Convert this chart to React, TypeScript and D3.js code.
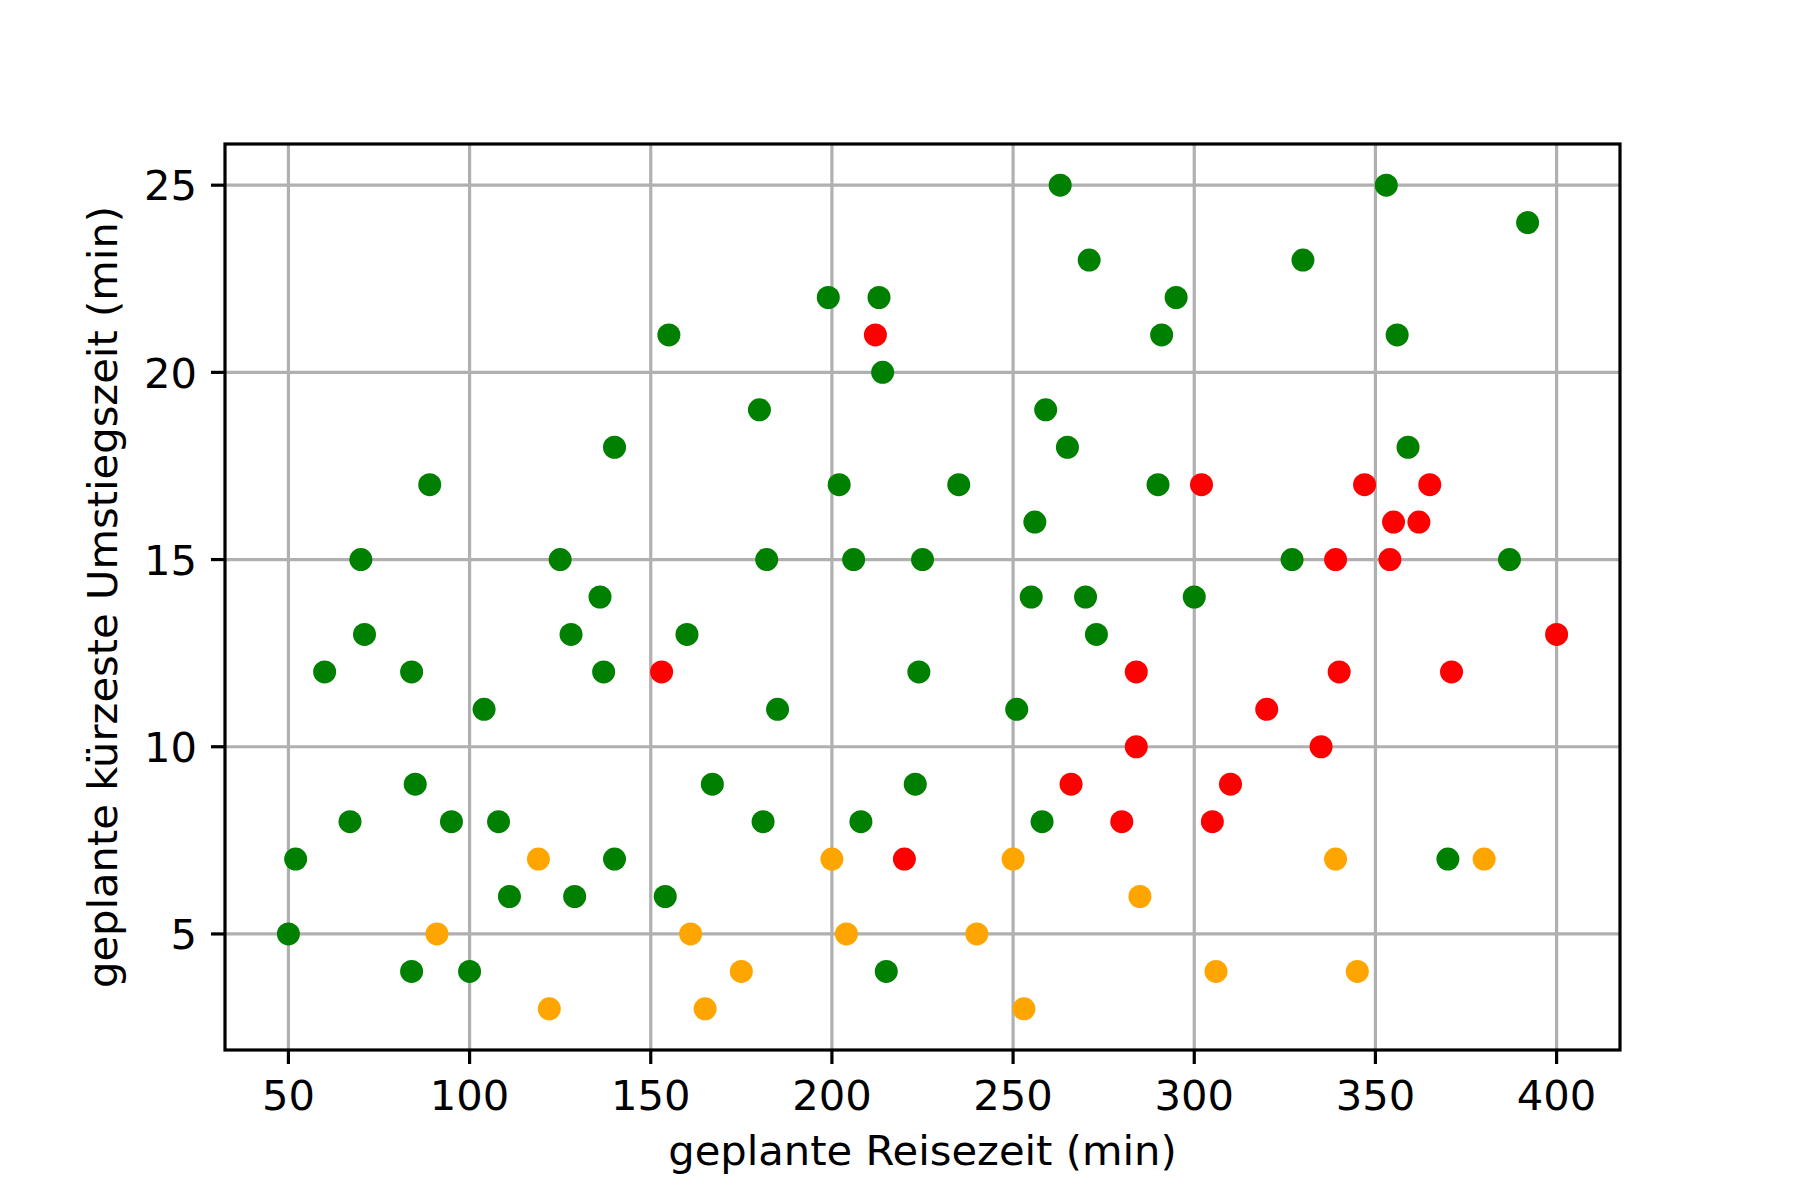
import React from "react";
import * as d3 from "d3";

// Data (geplante Reisezeit, geplante kürzeste Umstiegszeit)
const greenX = [263, 353, 392, 271, 330, 199, 213, 295, 155, 291, 356, 214, 180, 259, 140, 265, 359, 89, 202, 235, 290, 256, 70, 125, 182, 206, 225, 327, 387, 136, 255, 270, 300, 71, 128, 160, 273, 60, 84, 137, 224, 104, 185, 251, 85, 167, 223, 67, 95, 108, 181, 208, 258, 52, 140, 370, 111, 129, 154, 50, 84, 100, 215];
const greenY = [25, 25, 24, 23, 23, 22, 22, 22, 21, 21, 21, 20, 19, 19, 18, 18, 18, 17, 17, 17, 17, 16, 15, 15, 15, 15, 15, 15, 15, 14, 14, 14, 14, 13, 13, 13, 13, 12, 12, 12, 12, 11, 11, 11, 9, 9, 9, 8, 8, 8, 8, 8, 8, 7, 7, 7, 6, 6, 6, 5, 4, 4, 4];

const redX = [212, 302, 347, 365, 355, 362, 339, 354, 400, 153, 284, 340, 371, 320, 284, 335, 266, 310, 280, 305, 220];
const redY = [21, 17, 17, 17, 16, 16, 15, 15, 13, 12, 12, 12, 12, 11, 10, 10, 9, 9, 8, 8, 7];

const orangeX = [119, 200, 250, 339, 380, 285, 91, 161, 204, 240, 175, 306, 345, 122, 165, 253];
const orangeY = [7, 7, 7, 7, 7, 6, 5, 5, 5, 5, 4, 4, 4, 3, 3, 3];

const xTicks = [50, 100, 150, 200, 250, 300, 350, 400];
const yTicks = [5, 10, 15, 20, 25];

const xLabel = "geplante Reisezeit (min)";
const yLabel = "geplante kürzeste Umstiegszeit (min)";

const series = [
  { name: "green", color: "green", xs: greenX, ys: greenY },
  { name: "red", color: "red", xs: redX, ys: redY },
  { name: "orange", color: "orange", xs: orangeX, ys: orangeY },
];

const W = 1800;
const H = 1200;
const left = 225;
const right = 1620;
const top = 144;
const bottom = 1050;
const FONT = "'DejaVu Sans', sans-serif";
const FS = 41.67;

export default function App() {
  const x = d3.scaleLinear().domain([32.5, 417.5]).range([left, right]);
  const y = d3.scaleLinear().domain([1.9, 26.1]).range([bottom, top]);
  const lw = 3.2;
  const tickLen = 14;
  const pad = 14;

  return (
    <svg
      width={W}
      height={H}
      style={{ position: "absolute", left: 0, top: 0, background: "white" }}
      fontFamily={FONT}
    >
      <rect x={0} y={0} width={W} height={H} fill="white" />
      {/* grid */}
      <g stroke="#b0b0b0" strokeWidth={lw}>
        {xTicks.map((t) => (
          <line key={"gx" + t} x1={x(t)} x2={x(t)} y1={top} y2={bottom} />
        ))}
        {yTicks.map((t) => (
          <line key={"gy" + t} x1={left} x2={right} y1={y(t)} y2={y(t)} />
        ))}
      </g>
      {/* points */}
      {series.map((s) => (
        <g key={s.name} fill={s.color}>
          {s.xs.map((v, i) => (
            <circle key={i} cx={x(v)} cy={y(s.ys[i])} r={11.5} />
          ))}
        </g>
      ))}
      {/* spines */}
      <rect
        x={left}
        y={top}
        width={right - left}
        height={bottom - top}
        fill="none"
        stroke="black"
        strokeWidth={lw}
      />
      {/* x ticks */}
      <g>
        {xTicks.map((t) => (
          <g key={"xt" + t}>
            <line x1={x(t)} x2={x(t)} y1={bottom} y2={bottom + tickLen} stroke="black" strokeWidth={lw} />
            <text x={x(t)} y={1110} textAnchor="middle" fontSize={FS} fill="black">
              {t}
            </text>
          </g>
        ))}
      </g>
      {/* y ticks */}
      <g>
        {yTicks.map((t) => (
          <g key={"yt" + t}>
            <line x1={left - tickLen} x2={left} y1={y(t)} y2={y(t)} stroke="black" strokeWidth={lw} />
            <text x={left - tickLen - pad} y={y(t) + 0.3645 * FS} textAnchor="end" fontSize={FS} fill="black">
              {t}
            </text>
          </g>
        ))}
      </g>
      <text x={(left + right) / 2} y={1165} textAnchor="middle" fontSize={FS} fill="black">
        {xLabel}
      </text>
      <text
        transform={`translate(117, ${(top + bottom) / 2}) rotate(-90)`}
        textAnchor="middle"
        fontSize={FS}
        fill="black"
      >
        {yLabel}
      </text>
    </svg>
  );
}
